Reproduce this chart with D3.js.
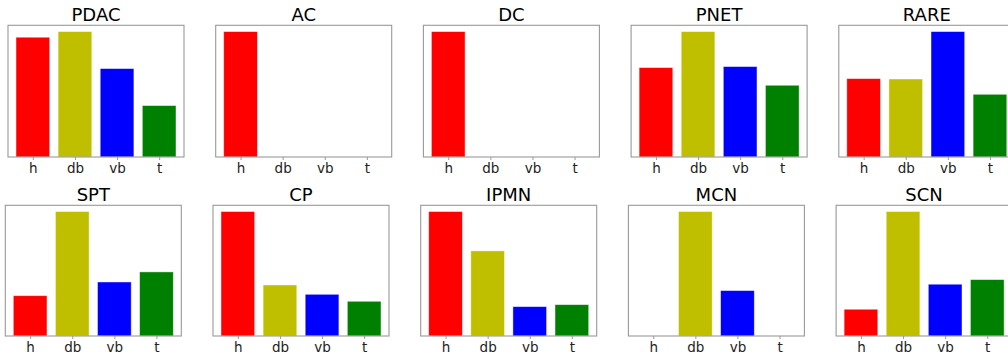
<!DOCTYPE html>
<html>
<head>
<meta charset="utf-8">
<script src="https://cdn.jsdelivr.net/npm/d3@7"></script>
<style>
  html, body { margin: 0; padding: 0; background: #fff; }
  svg { display: block; }
</style>
</head>
<body>
<div id="container"></div>
<script>
// 类别与各子图的数据（相对比例，从图中估读）
const categories = ["h", "db", "vb", "t"];
const colors = ["#ff0000", "#bfbf00", "#0000ff", "#008000"];
const titles = ["PDAC", "AC", "DC", "PNET", "RARE", "SPT", "CP", "IPMN", "MCN", "SCN"];

const pdac = [0.955, 1.0, 0.705, 0.41];
const ac = [1.0, 0, 0, 0];
const dc = [1.0, 0, 0, 0];
const pnet = [0.713, 1.0, 0.721, 0.572];
const rare = [0.625, 0.622, 1.0, 0.5];
const spt = [0.324, 1.0, 0.434, 0.515];
const cp = [1.0, 0.41, 0.335, 0.279];
const ipmn = [1.0, 0.684, 0.236, 0.252];
const mcn = [0, 1.0, 0.365, 0];
const scn = [0.215, 1.0, 0.416, 0.453];

const series = [pdac, ac, dc, pnet, rare, spt, cp, ipmn, mcn, scn];

const width = 1008;
const height = 354;

const svg = d3.select("#container")
  .append("svg")
  .attr("width", width)
  .attr("height", height)
  .attr("font-family", "'DejaVu Sans', sans-serif");

// 子图布局
const cellW = 176;
const colStep = 207.7;
const rowLeft = [8, 5.3];
const rowTop = [25.3, 205.3];
const rowH = [131.7, 130.7];

series.forEach((vals, k) => {
  const row = Math.floor(k / 5);
  const col = k % 5;
  const x0 = rowLeft[row] + col * colStep;
  const y0 = rowTop[row];
  const h = rowH[row];

  // 与 matplotlib 相同：柱宽 0.8，左右各留 5% 边距
  const x = d3.scaleLinear().domain([-0.59, 3.59]).range([0, cellW]);
  const y = d3.scaleLinear().domain([0, d3.max(vals) * 1.05]).range([h, 0]);

  const g = svg.append("g").attr("transform", `translate(${x0},${y0})`);

  g.selectAll("rect.bar")
    .data(vals)
    .join("rect")
    .attr("class", "bar")
    .attr("x", (d, i) => x(i - 0.4))
    .attr("width", x(0.4) - x(-0.4))
    .attr("y", d => y(d))
    .attr("height", d => h - y(d))
    .attr("fill", (d, i) => colors[i])
    .attr("stroke", "#fff")
    .attr("stroke-opacity", d => d > 0 ? 0.55 : 0)
    .attr("stroke-width", 0.8);

  // 边框
  g.append("rect")
    .attr("x", 0)
    .attr("y", 0)
    .attr("width", cellW)
    .attr("height", h)
    .attr("fill", "none")
    .attr("stroke", "#999")
    .attr("stroke-width", 1.1);

  // x 轴刻度
  const axis = g.append("g")
    .attr("transform", `translate(0,${h})`)
    .call(d3.axisBottom(x).tickValues(d3.range(categories.length))
      .tickFormat(i => categories[i]).tickSize(3).tickPadding(3));
  axis.select(".domain").remove();
  axis.selectAll(".tick line").attr("stroke", "#999");
  axis.selectAll(".tick text")
    .attr("fill", "#222")
    .attr("font-size", 13.5)
    .attr("font-family", "'DejaVu Sans', sans-serif");

  // 标题
  g.append("text")
    .attr("x", cellW / 2)
    .attr("y", -4)
    .attr("text-anchor", "middle")
    .attr("font-size", 18)
    .attr("fill", "#000")
    .text(titles[k]);
});
</script>
</body>
</html>
